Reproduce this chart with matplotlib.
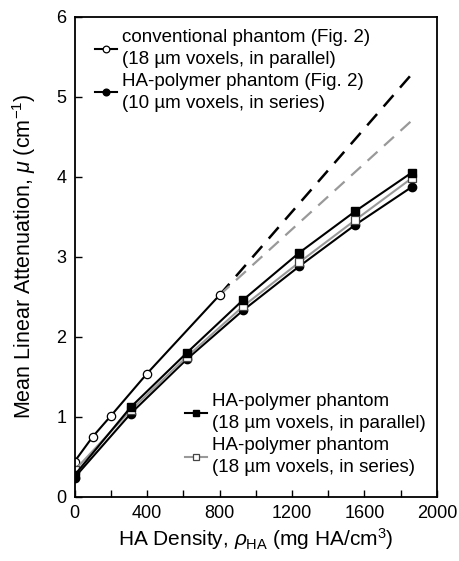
import matplotlib
matplotlib.use('Agg')
import matplotlib.pyplot as plt

plt.rcParams['font.family'] = ['Liberation Sans', 'DejaVu Sans']
plt.rcParams['mathtext.fontset'] = 'custom'
plt.rcParams['mathtext.rm'] = 'Liberation Sans'
plt.rcParams['mathtext.it'] = 'Liberation Sans:italic'

# data
conv_x = [0, 100, 200, 400, 800]
conv_y = [0.44, 0.75, 1.01, 1.54, 2.52]

ha_x = [0, 310, 620, 930, 1240, 1550, 1860]
ha_fig2_y = [0.24, 1.04, 1.72, 2.33, 2.88, 3.40, 3.87]
ha_par_y = [0.27, 1.12, 1.80, 2.46, 3.05, 3.57, 4.05]
ha_ser_y = [0.33, 1.08, 1.75, 2.38, 2.93, 3.46, 3.98]

extrap_x = [800, 1860]
extrap_par_y = [2.52, 5.28]
extrap_ser_y = [2.52, 4.70]

fig = plt.figure(figsize=(4.59, 5.61), dpi=100)
ax = fig.add_axes([0.1625, 0.1146, 0.7895, 0.8556])

ax.plot(extrap_x, extrap_par_y, color='black', lw=1.8, dashes=(6, 4))
ax.plot(extrap_x, extrap_ser_y, color='#999999', lw=1.6, dashes=(6, 4))

l_conv, = ax.plot(conv_x, conv_y, color='black', lw=1.5, marker='o', ms=6,
                  mfc='white', mec='black', mew=0.9)
l_fig2, = ax.plot(ha_x, ha_fig2_y, color='black', lw=1.5, marker='o', ms=6,
                  mfc='black', mec='black')
l_ser, = ax.plot(ha_x, ha_ser_y, color='#999999', lw=1.5, marker='s', ms=6,
                 mfc='white', mec='#444444', mew=0.9)
l_par, = ax.plot(ha_x, ha_par_y, color='black', lw=1.5, marker='s', ms=6,
                 mfc='black', mec='black')

ax.set_xlim(0, 2000)
ax.set_ylim(0, 6)
ax.set_xticks([0, 400, 800, 1200, 1600, 2000])
ax.set_xticks(range(200, 2000, 400), minor=True)
ax.set_yticks(range(0, 7))
ax.tick_params(direction='in', length=5, width=1, labelsize=13, pad=6)
ax.tick_params(which='minor', direction='in', length=5, width=1)
for s in ax.spines.values():
    s.set_linewidth(1.3)

ax.set_xlabel(r'HA Density, $\rho_{\mathrm{HA}}$ (mg HA/cm$^3$)', fontsize=15,
              labelpad=3)
ax.set_ylabel(r'Mean Linear Attenuation, $\mu$ (cm$^{-1}$)', fontsize=15.5,
              labelpad=13)

leg_kw = dict(frameon=False, fontsize=13.5, handlelength=1.2,
              handletextpad=0.25, labelspacing=0.25, borderaxespad=0.0,
              markerscale=0.8)
leg1 = ax.legend([l_conv, l_fig2],
                 ['conventional phantom (Fig. 2)\n(18 µm voxels, in parallel)',
                  'HA-polymer phantom (Fig. 2)\n(10 µm voxels, in series)'],
                 loc='upper left', bbox_to_anchor=(0.035, 0.99), **leg_kw)
ax.add_artist(leg1)
leg2 = ax.legend([l_par, l_ser],
                 ['HA-polymer phantom\n(18 µm voxels, in parallel)',
                  'HA-polymer phantom\n(18 µm voxels, in series)'],
                 loc='lower right', bbox_to_anchor=(0.99, 0.027), **leg_kw)
for leg in (leg1, leg2):
    for t in leg.get_texts():
        t.set_linespacing(1.4)

fig.savefig('out.png', dpi=100)
